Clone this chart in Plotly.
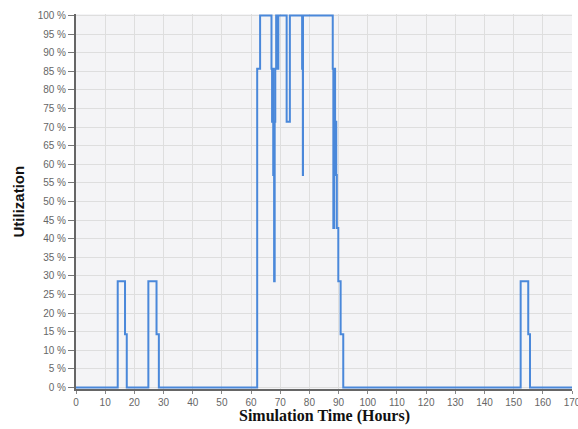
import plotly.graph_objects as go

# Step data: time (hours) at which utilization changes, and new utilization (%)
times = [0, 14.3, 16.8, 17.4, 24.8, 27.6, 28.4, 62.1, 63.1,
         67.0, 67.2, 67.4, 67.6, 67.9, 68.1, 68.3, 68.6, 68.8, 69.1, 69.2, 69.35,
         72.2, 73.3, 77.5, 77.75, 77.8,
         88.0, 88.2, 88.5, 88.8, 89.0, 89.2, 89.4, 89.9, 90.7, 91.6,
         152.4, 155.0, 155.6, 170]
utilization = [0, 28.57, 14.29, 0, 28.57, 14.29, 0, 85.71, 100,
               85.71, 71.43, 85.71, 57.14, 28.57, 71.43, 85.71, 100, 85.71, 100, 85.71, 100,
               71.43, 100, 85.71, 57.14, 100,
               85.71, 42.86, 85.71, 57.14, 71.43, 57.14, 42.86, 28.57, 14.29, 0,
               28.57, 14.29, 0, 0]

x_ticks = list(range(0, 171, 10))
y_ticks = list(range(0, 101, 5))
y_tick_labels = [f"{v} %" for v in y_ticks]

fig = go.Figure()
fig.add_trace(go.Scatter(
    x=times, y=utilization, mode="lines", line_shape="hv",
    line=dict(color="#4a88da", width=2), showlegend=False, hoverinfo="skip"))

W, H = 578, 429
left, right, top, bottom = 76, 6, 13.5, 40
fig.update_layout(
    width=W, height=H,
    margin=dict(l=left, r=right, t=top, b=bottom, pad=0, autoexpand=False),
    paper_bgcolor="white", plot_bgcolor="#f4f4f6",
    font=dict(family="Liberation Sans, Arial, sans-serif", size=10, color="#666"),
    xaxis=dict(range=[0, 170], tickvals=x_ticks, showgrid=True, gridcolor="#dedede",
               gridwidth=1, showline=True, linecolor="#666", linewidth=2,
               ticks="outside", ticklen=3, tickcolor="#888", zeroline=False,
               ticklabeloverflow="allow", automargin=False,
               tickfont=dict(size=10, color="#666")),
    yaxis=dict(range=[-0.4, 100.4], tickvals=y_ticks, ticktext=y_tick_labels,
               showgrid=True, gridcolor="#dedede", gridwidth=1, showline=True,
               linecolor="#666", linewidth=2, ticks="outside", ticklen=6,
               tickcolor="#777", zeroline=False, automargin=False,
               tickfont=dict(size=10, color="#666")),
    annotations=[
        dict(text="<b>Utilization</b>", xref="paper", yref="paper", x=0, y=0.5,
             xshift=-58, xanchor="center", yanchor="middle", textangle=-90,
             showarrow=False,
             font=dict(family="Liberation Sans, Arial, sans-serif", size=15, color="#111")),
        dict(text="<b>Simulation Time (Hours)</b>", xref="paper", yref="paper",
             x=0.5, y=0, yshift=-27, xanchor="center", yanchor="middle", showarrow=False,
             font=dict(family="Liberation Serif, Times New Roman, serif", size=16, color="#111")),
    ],
)

fig.write_html("out.html", config={"displayModeBar": False},
               post_script="document.body.style.margin='0';document.body.style.overflow='hidden';")
